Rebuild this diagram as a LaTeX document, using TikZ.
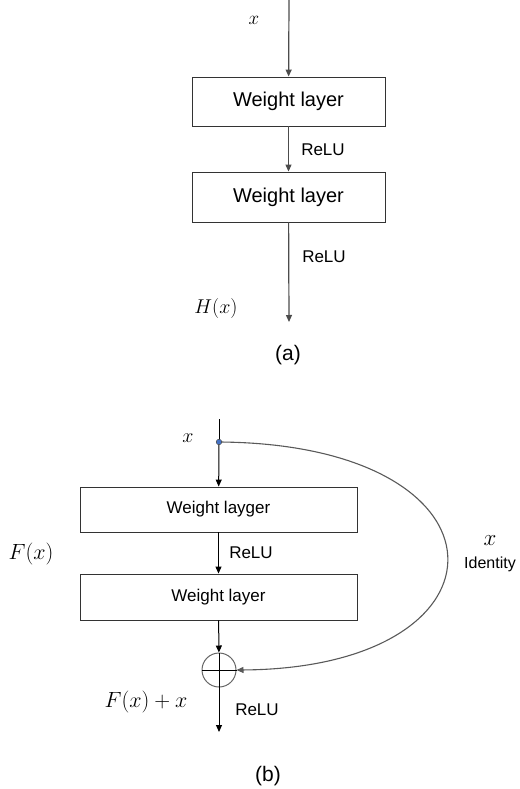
\RequirePackage{fix-cm}
\documentclass[tikz,border=0pt]{standalone}
\usepackage[no-math]{fontspec}
\setmainfont{Liberation Sans}
\usetikzlibrary{arrows.meta}
\definecolor{dot_blue}{RGB}{68,114,196}

\tikzset{
  layerbox/.style={draw=black!80, line width=0.9pt, inner sep=0pt},
  flow/.style={-{Triangle[length=7pt,width=6pt]}},
  math_lbl/.style={inner sep=0pt},
}

\begin{document}
\begin{tikzpicture}[x=1pt, y=-1pt]
  \useasboundingbox (0,0) rectangle (519,789);

  % (a) plain stack
  \coordinate (a-in) at (289,0);
  \node[layerbox, minimum width=193pt, minimum height=49pt, font=\fontsize{20}{24}\selectfont]
    (a-w1) at (288.5,101.5) {Weight layer};
  \node[layerbox, minimum width=193pt, minimum height=50pt, font=\fontsize{20}{24}\selectfont]
    (a-w2) at (288.5,197) {Weight layer};
  \coordinate (a-out) at (289,322);
  \begin{scope}[black!70, line width=1.2pt]
    \draw[flow] (a-in) -- (a-w1);
    \draw[flow] (a-w1) -- (a-w2);
    \draw[flow] (a-w2) -- (a-out);
  \end{scope}
  \node[math_lbl, font=\fontsize{19}{22}\selectfont] (a-x) at (254,20) {$x$};
  \node[font=\fontsize{17}{20}\selectfont] (a-relu1) at (323,150) {ReLU};
  \node[font=\fontsize{17}{20}\selectfont] (a-relu2) at (324,257) {ReLU};
  \node[math_lbl, font=\fontsize{20}{22}\selectfont] (a-hx) at (216,308) {$H(x)$};
  \node[font=\fontsize{21}{24}\selectfont] (a-cap) at (288,355) {(a)};

  % (b) residual block
  \coordinate (b-in) at (219,419);
  \node[layerbox, minimum width=277pt, minimum height=45pt, font=\fontsize{17}{20}\selectfont]
    (b-w1) at (218.5,509.5) {Weight layger};
  \node[layerbox, minimum width=277pt, minimum height=46pt, font=\fontsize{17}{20}\selectfont]
    (b-w2) at (218.5,597) {Weight layer};
  \node[circle, draw=black!60, line width=1pt, minimum size=34pt, inner sep=0pt]
    (b-sum) at (219,670) {};
  \coordinate (b-out) at (219,732);
  \coordinate (b-split) at (219,442);
  \begin{scope}[black, line width=1pt]
    \draw (b-in) -- (b-split);
    \draw[flow] (b-split) -- (b-w1);
    \draw[flow] (b-w1) -- (b-w2);
    \draw[flow] (b-w2) -- (b-sum);
    \draw (b-sum.north) -- (b-sum.south);
    \draw (b-sum.west) -- (b-sum.east);
    \draw[flow] (b-sum) -- (b-out);
  \end{scope}
  % identity shortcut
  \draw[flow, black!65, line width=1.1pt] (b-split)
    .. controls (520,444) and (520,668) .. (b-sum.east);
  \fill[dot_blue, draw=black!70, line width=0.5pt] (b-split) circle (2.8pt);
  \node[math_lbl, font=\fontsize{20}{22}\selectfont] (b-x) at (188,438) {$x$};
  \node[math_lbl, font=\fontsize{22}{24}\selectfont] (b-fx) at (31,554) {$F(x)$};
  \node[font=\fontsize{17}{20}\selectfont] (b-relu1) at (251,553) {ReLU};
  \node[math_lbl, font=\fontsize{22}{24}\selectfont] (b-sumlbl) at (146,702) {$F(x)+x$};
  \node[font=\fontsize{17}{20}\selectfont] (b-relu2) at (257,710) {ReLU};
  \node[math_lbl, font=\fontsize{23}{26}\selectfont] (b-idx) at (490,541) {$x$};
  \node[font=\fontsize{16}{18}\selectfont] (b-id) at (490,564) {Identity};
  \node[font=\fontsize{21}{24}\selectfont] (b-cap) at (268,776) {(b)};
\end{tikzpicture}
\end{document}
